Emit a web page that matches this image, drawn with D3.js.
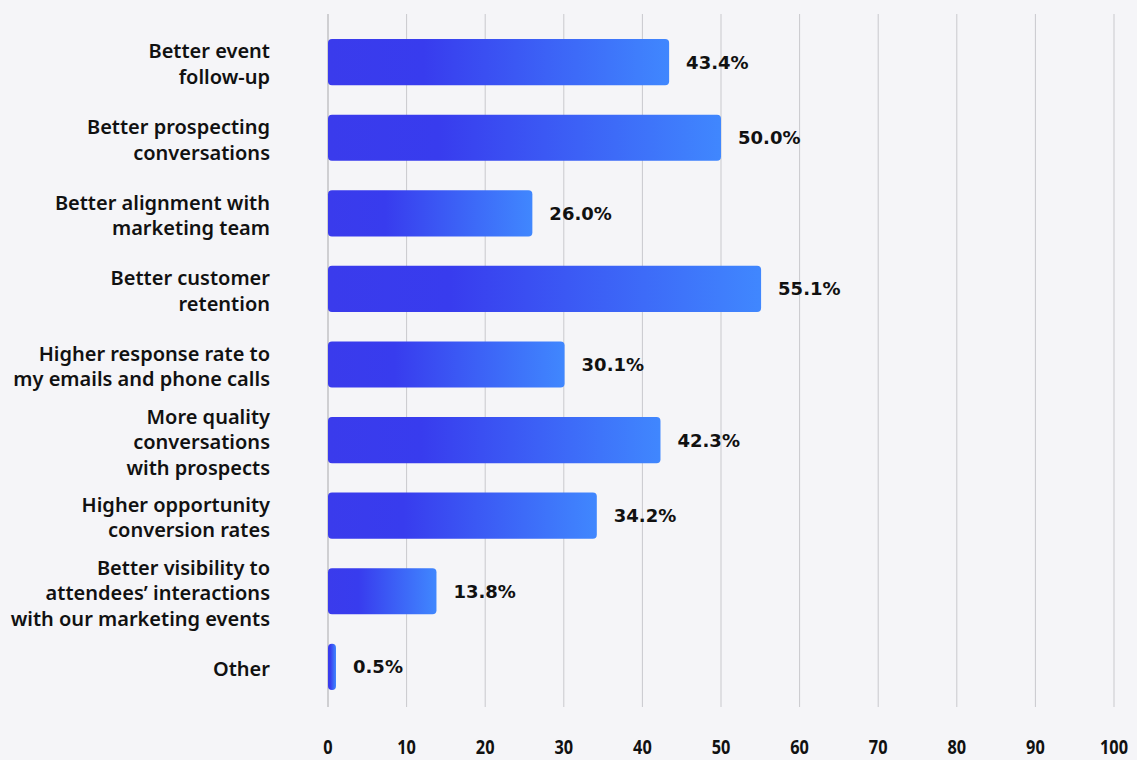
<!DOCTYPE html>
<html>
<head>
<meta charset="utf-8">
<script src="https://cdn.jsdelivr.net/npm/d3@7"></script>
<style>
  html, body { margin: 0; padding: 0; background: #f5f5f8; }
  svg { display: block; }
</style>
</head>
<body>
<svg id="chart" width="1137" height="760"></svg>
<script>
// Survey answers: each category label is split into its display lines
const categories = [
  ["Better event", "follow-up"],
  ["Better prospecting", "conversations"],
  ["Better alignment with", "marketing team"],
  ["Better customer", "retention"],
  ["Higher response rate to", "my emails and phone calls"],
  ["More quality", "conversations", "with prospects"],
  ["Higher opportunity", "conversion rates"],
  ["Better visibility to", "attendees\u2019 interactions", "with our marketing events"],
  ["Other"]
];
const values = [43.4, 50.0, 26.0, 55.1, 30.1, 42.3, 34.2, 13.8, 0.5];
const tickValues = [0, 10, 20, 30, 40, 50, 60, 70, 80, 90, 100];

const svg = d3.select("#chart");
const plot = { left: 328, right: 1114, top: 14, bottom: 707 };

const ids = categories.map((c, i) => i);
const x = d3.scaleLinear().domain([0, 100]).range([plot.left, plot.right]);
const y = d3.scaleBand().domain(ids).range([24, 705]).paddingInner(0.39).paddingOuter(0.2);

// Bar gradient: deep blue that brightens toward the bar's end
const defs = svg.append("defs");
const grad = defs.append("linearGradient")
  .attr("id", "barGrad")
  .attr("x1", "0%").attr("x2", "100%").attr("y1", "0%").attr("y2", "0%");
grad.append("stop").attr("offset", "0%").attr("stop-color", "#3a3bec");
grad.append("stop").attr("offset", "28%").attr("stop-color", "#383cee");
grad.append("stop").attr("offset", "100%").attr("stop-color", "#4087fe");

// Vertical grid lines
svg.append("g")
  .selectAll("line")
  .data(tickValues)
  .join("line")
  .attr("x1", d => x(d)).attr("x2", d => x(d))
  .attr("y1", plot.top).attr("y2", plot.bottom)
  .attr("stroke", d => d === 0 ? "#c2c2c6" : "#c9c9cd")
  .attr("stroke-width", d => d === 0 ? 1.5 : 1);

// Bottom tick labels (narrowed bold digits)
svg.append("g")
  .selectAll("text")
  .data(tickValues)
  .join("text")
  .attr("transform", d => `translate(${x(d)},754) scale(0.86,1)`)
  .attr("text-anchor", "middle")
  .attr("font-family", "'Noto Sans', sans-serif")
  .attr("font-weight", "bold")
  .attr("font-size", 19)
  .attr("fill", "#111")
  .text(d => d);

// Bars
svg.append("g")
  .selectAll("rect")
  .data(ids)
  .join("rect")
  .attr("x", x(0))
  .attr("y", i => y(i))
  .attr("width", i => Math.max(x(values[i]) - x(0), 8))
  .attr("height", y.bandwidth())
  .attr("rx", 4).attr("ry", 4)
  .attr("fill", "url(#barGrad)");

// Value labels after each bar
svg.append("g")
  .selectAll("text")
  .data(ids)
  .join("text")
  .attr("x", i => x(0) + Math.max(x(values[i]) - x(0), 8) + 17)
  .attr("y", i => y(i) + y.bandwidth() / 2)
  .attr("dy", "0.36em")
  .attr("font-family", "'DejaVu Sans', sans-serif")
  .attr("font-weight", "bold")
  .attr("font-size", 18)
  .attr("fill", "#111")
  .text(i => values[i].toFixed(1) + "%");

// Category labels, right-aligned left of the axis
const lineH = 25.5;
const labels = svg.append("g")
  .selectAll("text")
  .data(ids)
  .join("text")
  .attr("text-anchor", "end")
  .attr("font-family", "'Noto Sans', sans-serif")
  .attr("font-weight", 600)
  .attr("font-size", 20)
  .attr("fill", "#111");

labels.each(function(i) {
  const lines = categories[i];
  const cy = y(i) + y.bandwidth() / 2 + 2;
  const startY = cy - (lines.length - 1) * lineH / 2;
  d3.select(this).selectAll("tspan")
    .data(lines)
    .join("tspan")
    .attr("x", 270)
    .attr("y", (d, k) => startY + k * lineH)
    .attr("dy", "0.35em")
    .text(d => d);
});
</script>
</body>
</html>
